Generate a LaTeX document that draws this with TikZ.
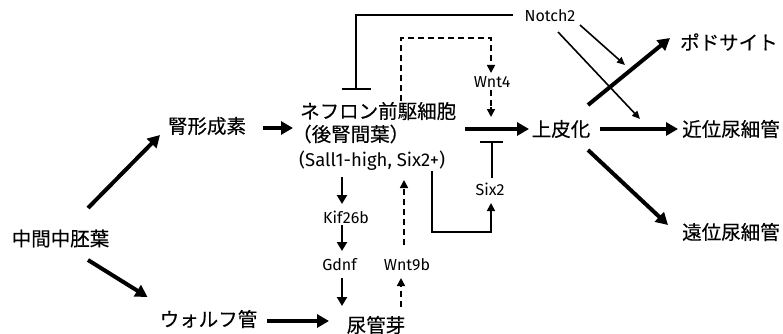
\documentclass[tikz,border=0pt]{standalone}
\usepackage{fontspec}
\setmainfont{Noto Sans CJK JP}[FakeBold=0.3]
\newfontfamily\latf{Fira Sans}
\usetikzlibrary{arrows.meta,calc}
\tikzset{
  big/.style={line width=4pt,-{Triangle[length=12pt,width=13pt]}},
  mid/.style={line width=2.4pt,-{Triangle[length=9pt,width=10pt]}},
  thin/.style={line width=1.6pt,-{Triangle[length=8pt,width=7pt]}},
  plain/.style={line width=1.6pt},
  dsh/.style={line width=1.6pt,dash pattern=on 6pt off 4pt},
  tip/.style={line width=1.6pt,-{Triangle[length=8pt,width=8pt]}},
  jp/.style={inner sep=0pt,font=\fontsize{19.5}{22}\selectfont},
  lab/.style={inner sep=0pt,anchor=base,font=\latf\fontsize{16}{18}\selectfont},
}
\begin{document}
\begin{tikzpicture}[x=1pt,y=-1pt]
\useasboundingbox (0,0) rectangle (783,334);
% nodes
\node[jp] (im) at (60.5,238.5) {中間中胚葉};
\node[jp] (jk) at (207,126) {腎形成素};
\node[jp] (wf) at (208.5,319) {ウォルフ管};
\node[jp,anchor=west] (n1) at (300,111) {ネフロン前駆細胞};
\node[jp,anchor=west] (n2) at (292,134) {（後腎間葉）};
\node[inner sep=0pt,anchor=base west,font=\latf\fontsize{18.5}{20}\selectfont] (n3) at (299,166) {(Sall1-high, Six2+)};
\node[jp] (epi) at (561,129) {上皮化};
\node[jp,anchor=west] (podo) at (680,42) {ポドサイト};
\node[jp,anchor=west] (prox) at (682,129) {近位尿細管};
\node[jp,anchor=west] (dist) at (682,232) {遠位尿細管};
\node[jp] (ub) at (376,325) {尿管芽};
\node[lab] (notch) at (550,22) {Notch2};
\node[lab] (wnt4) at (492,88) {Wnt4};
\node[lab] (six2) at (490,195) {Six2};
\node[lab] (kif) at (346,223) {Kif26b};
\node[lab] (gdnf) at (339.5,270) {Gdnf};
\node[lab] (wnt9b) at (407,270) {Wnt9b};
% thick arrows
\draw[big] ($(im)+(27.5,-30.5)$) -- ($(jk)+(-47,9)$);
\draw[big] ($(im)+(27.5,21.5)$) -- ($(wf)+(-61,-22)$);
\draw[big] ($(jk)+(56,2)$) -- ($(n2.west)+(1,-6)$);
\draw[big] ($(wf)+(58.5,2)$) -- ($(ub)+(-47,-4)$);
\draw[big] ($(epi)+(-96,0)$) -- ($(epi)+(-32,0)$);
\draw[big] ($(epi)+(39,0)$) -- ($(prox.west)+(-4,0)$);
\draw[big] ($(epi)+(27,-24)$) -- ($(podo.west)+(-10,-4)$);
\draw[big] ($(epi)+(27,21)$) -- ($(dist.west)+(-14,-7)$);
% Notch2
\draw[thin] ($(notch.base)+(30,3)$) -- ($(notch.base)+(75,43)$);
\draw[thin] ($(notch.base)+(8,10)$) -- ($(notch.base)+(90,97)$);
\draw[plain] ($(notch.base)+(-37,-7)$) -- ($(notch.base)+(-194,-7)$) -- ($(notch.base)+(-194,67)$) coordinate (nt2);
\draw[plain] ($(nt2)+(-14.5,0)$) -- ($(nt2)+(14.5,0)$);
% Wnt4 dashed
\draw[dsh] ($(n1.north west)+(101,-1)$) -- ($(wnt4.base)+(-91,-50)$) -- ($(wnt4.base)+(-1,-50)$) -- ($(wnt4.base)+(-1,-22)$);
\draw[tip] ($(wnt4.base)+(-1,-22)$) -- ($(wnt4.base)+(-1,-15)$);
\draw[dsh] ($(wnt4.base)+(-1,2)$) -- ($(wnt4.base)+(-1,20)$);
\draw[tip] ($(wnt4.base)+(-1,19)$) -- ($(epi)+(-70,-12)$);
% Six2 inhibition and loop
\draw[plain] ($(six2.base)+(2,-17)$) -- ($(six2.base)+(2,-53)$);
\draw[plain] ($(six2.base)+(-10,-53)$) -- ($(six2.base)+(13,-53)$);
\draw[plain,-{Triangle[length=8pt,width=8pt]}] ($(n3.base west)+(133,5)$) -- ($(n3.base west)+(133,66)$) -- ($(six2.base)+(1,37)$) -- ($(six2.base)+(1,8)$);
% Kif26b / Gdnf chain
\draw[mid] ($(kif.base)+(-4,-46)$) -- ($(kif.base)+(-4,-19)$);
\draw[mid] ($(kif.base)+(-4,2)$) -- ($(gdnf.base)+(2.5,-19)$);
\draw[mid] ($(gdnf.base)+(2.5,8)$) -- ($(ub)+(-34,-19)$);
% Wnt9b dashed
\draw[dsh] ($(ub)+(25,-18)$) -- ($(wnt9b.base)+(-6,14)$);
\draw[tip] ($(wnt9b.base)+(-6,14)$) -- ($(wnt9b.base)+(-6,8)$);
\draw[dsh] ($(wnt9b.base)+(-3,-25)$) -- ($(n3.base west)+(105,20)$);
\draw[tip] ($(n3.base west)+(105,20)$) -- ($(n3.base west)+(105,14)$);
\end{tikzpicture}
\end{document}
